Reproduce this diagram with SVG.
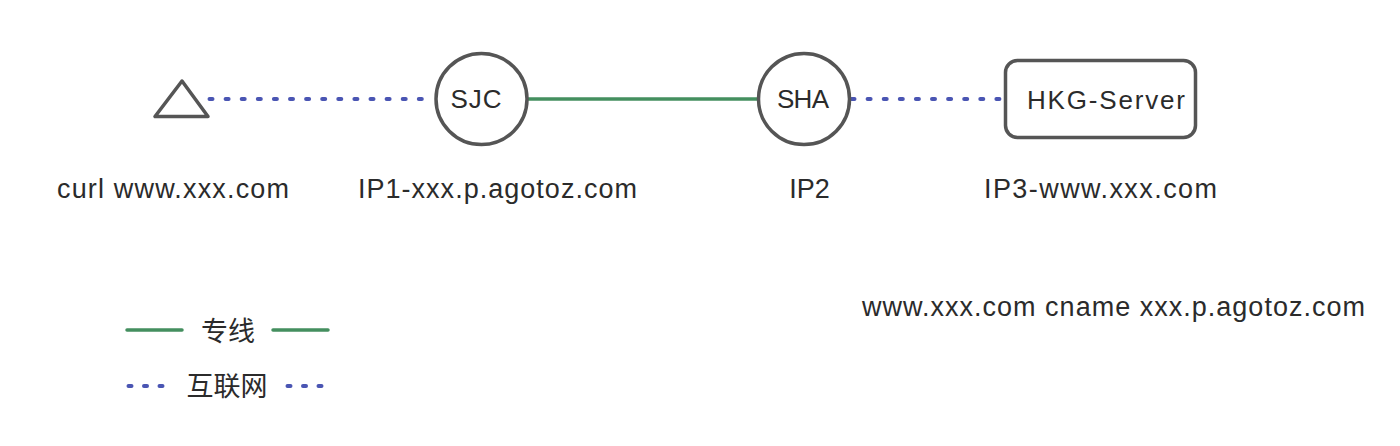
<svg xmlns="http://www.w3.org/2000/svg" width="1400" height="446" viewBox="0 0 1400 446">
  <style>
    .node { fill: #ffffff; stroke: #555555; stroke-width: 3.5; }
    .lbl { font-family: "Liberation Sans", Arial, sans-serif; font-size: 27px; fill: #2b2b2b; }
    .ntxt { font-family: "Liberation Sans", Arial, sans-serif; font-size: 26px; fill: #2b2b2b; }
    .cjk { font-family: "Liberation Sans", "Noto Sans CJK SC", sans-serif; font-size: 27px; fill: #2b2b2b; }
    .private { stroke: #448f5f; stroke-width: 3.5; fill: none; stroke-linecap: round; }
    .internet { stroke: #4a55b3; stroke-width: 4; fill: none; stroke-linecap: round; stroke-dasharray: 3 13.1; }
  </style>
  <rect width="1400" height="446" fill="#ffffff"/>

  <g id="connectors">
    <line class="internet" x1="209.5" y1="99" x2="424" y2="99"/>
    <line class="private" x1="527" y1="99" x2="758" y2="99" style="stroke-linecap:butt"/>
    <line class="internet" x1="851.5" y1="99" x2="1002" y2="99"/>
  </g>

  <g id="client">
    <polygon class="node" points="182,81 155,116.5 208,116.5" stroke-linejoin="round"/>
    <text class="lbl" x="57" y="198" textLength="232">curl www.xxx.com</text>
  </g>

  <g id="sjc">
    <circle class="node" cx="481.5" cy="99" r="45.5"/>
    <text class="ntxt" x="476" y="108" text-anchor="middle" textLength="51">SJC</text>
    <text class="lbl" x="358" y="198" textLength="279">IP1-xxx.p.agotoz.com</text>
  </g>

  <g id="sha">
    <circle class="node" cx="804" cy="99" r="45.5"/>
    <text class="ntxt" x="803" y="108" text-anchor="middle" textLength="52">SHA</text>
    <text class="lbl" x="809.5" y="198" text-anchor="middle">IP2</text>
  </g>

  <g id="hkg-server">
    <rect class="node" x="1005.5" y="60.5" width="190" height="77" rx="12" ry="12"/>
    <text class="ntxt" x="1027" y="109" textLength="158">HKG-Server</text>
    <text class="lbl" x="984" y="198" textLength="233">IP3-www.xxx.com</text>
  </g>

  <g id="note">
    <text class="lbl" x="862" y="316" textLength="503">www.xxx.com cname xxx.p.agotoz.com</text>
  </g>

  <g id="legend">
    <line class="private" x1="127" y1="330" x2="182" y2="330"/>
    <text class="cjk" x="228" y="341" text-anchor="middle">专线</text>
    <line class="private" x1="273" y1="330" x2="328" y2="330"/>
    <line class="internet" x1="128.5" y1="386" x2="163" y2="386" style="stroke-dasharray:3 12.5"/>
    <text class="cjk" x="227" y="396" text-anchor="middle">互联网</text>
    <line class="internet" x1="287.5" y1="386" x2="322" y2="386" style="stroke-dasharray:3 12.5"/>
  </g>
</svg>
